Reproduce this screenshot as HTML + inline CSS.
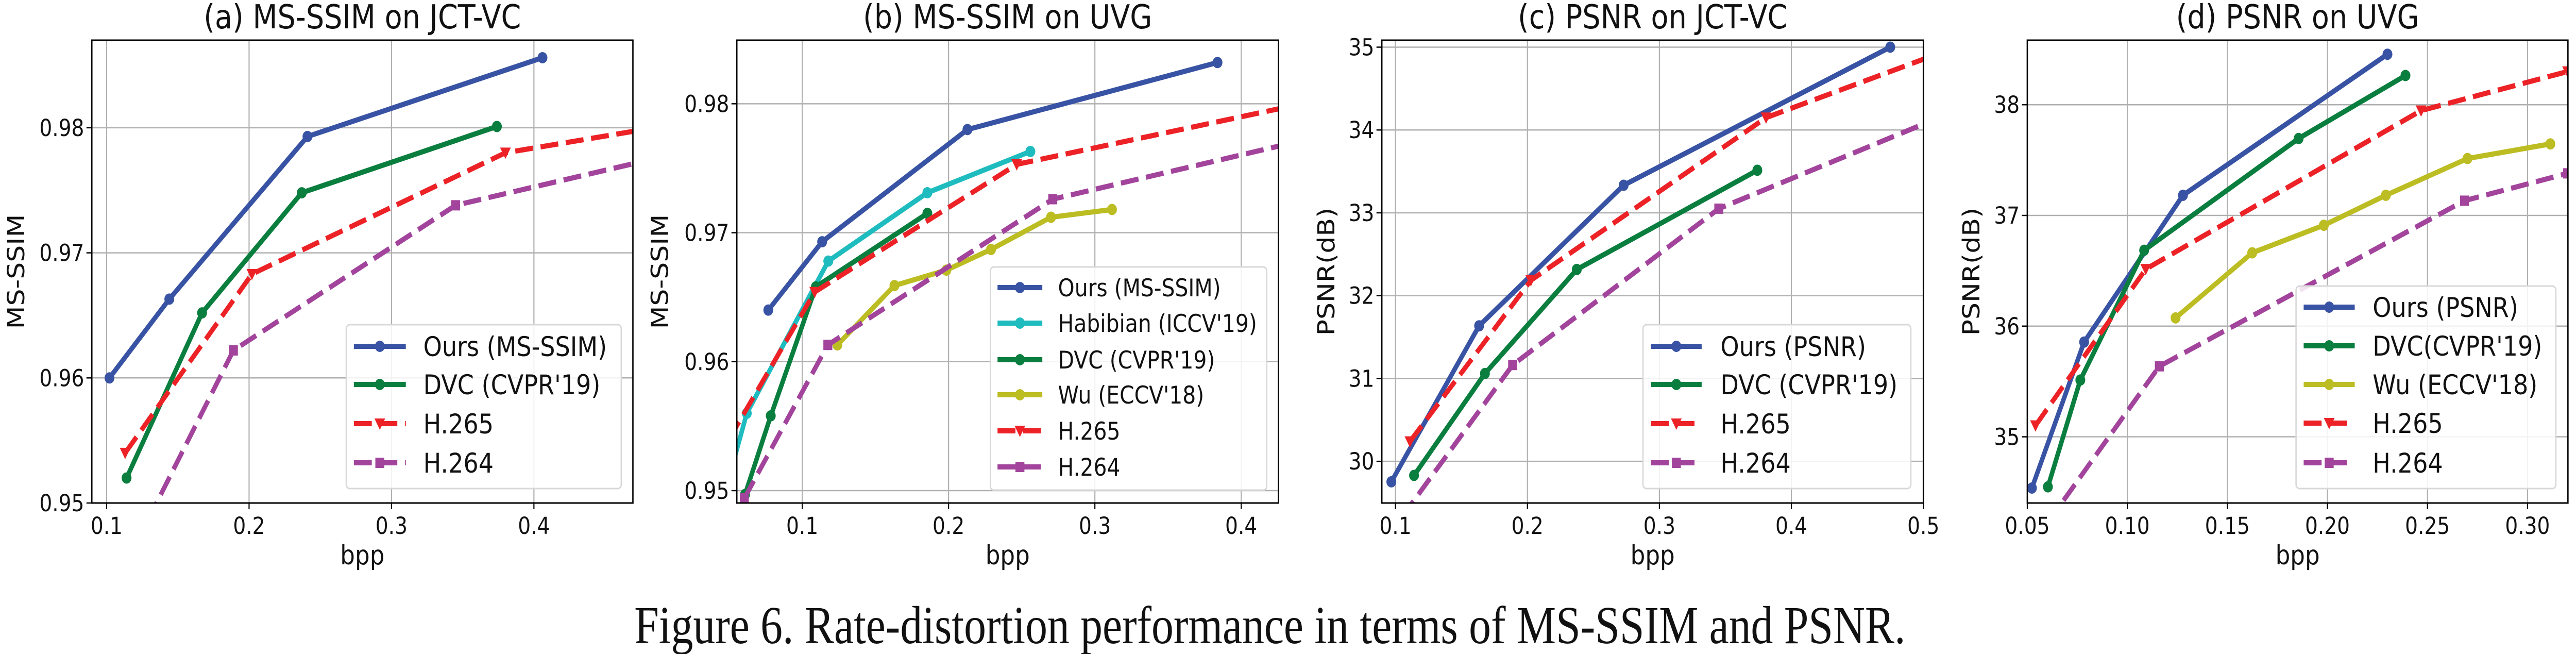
<!DOCTYPE html>
<html><head><meta charset="utf-8"><style>
html,body{margin:0;padding:0;background:#fff;width:100vw;height:100vh;overflow:hidden;}
svg{display:block;position:absolute;left:0;top:0;width:100vw;height:100vh;font-family:"DejaVu Sans","Liberation Sans",sans-serif;}
</style></head>
<body>
<svg id="fig" viewBox="0 0 5751 1269" preserveAspectRatio="none" xmlns="http://www.w3.org/2000/svg">
<rect width="5751" height="1269" fill="#fff"/>
<text x="1416" y="1248" font-family="Liberation Serif, serif" font-size="104" textLength="2838" lengthAdjust="spacingAndGlyphs" fill="#111">Figure 6. Rate-distortion performance in terms of MS-SSIM and PSNR.</text>
</svg>
<script>
// ---- Panel (a) data ----
const aOursX=[0.102,0.144,0.241,0.406];
const aOursY=[0.960,0.9663,0.9793,0.9856];
const aDvcX=[0.114,0.167,0.237,0.374];
const aDvcY=[0.952,0.9652,0.9748,0.9801];
const aH265X=[0.113,0.202,0.38,0.6];
const aH265Y=[0.954,0.9683,0.978,0.9822];
const aH264X=[0.12,0.189,0.345,0.6];
const aH264Y=[0.9466,0.9622,0.9738,0.9806];
const aXTicks=[0.1,0.2,0.3,0.4];
const aXTickLabels=["0.1","0.2","0.3","0.4"];
const aYTicks=[0.95,0.96,0.97,0.98];
const aYTickLabels=["0.95","0.96","0.97","0.98"];
// ---- Panel (b) data ----
const bOursX=[0.0768,0.1136,0.2129,0.3838];
const bOursY=[0.9640,0.9693,0.9780,0.9832];
const bHabX=[0.05,0.0621,0.1178,0.1855,0.2559];
const bHabY=[0.9510,0.9560,0.9678,0.9731,0.9763];
const bDvcX=[0.0609,0.0785,0.1093,0.1855];
const bDvcY=[0.9497,0.9558,0.9658,0.9715];
const bWuX=[0.124,0.163,0.1985,0.229,0.270,0.3117];
const bWuY=[0.9613,0.9659,0.9671,0.9687,0.9712,0.9718];
const bH265X=[0.05,0.1085,0.2466,0.5];
const bH265Y=[0.9540,0.9654,0.9753,0.9814];
const bH264X=[0.0604,0.1175,0.2712,0.5];
const bH264Y=[0.9494,0.9613,0.9726,0.9787];
const bXTicks=[0.1,0.2,0.3,0.4];
const bXTickLabels=["0.1","0.2","0.3","0.4"];
const bYTicks=[0.95,0.96,0.97,0.98];
const bYTickLabels=["0.95","0.96","0.97","0.98"];
// ---- Panel (c) data ----
const cOursX=[0.0969,0.1634,0.2729,0.4749];
const cOursY=[29.753,31.636,33.333,35.0];
const cDvcX=[0.1141,0.1678,0.2374,0.3742];
const cDvcY=[29.83,31.06,32.316,33.514];
const cH265X=[0.111,0.2026,0.3808,0.55];
const cH265Y=[30.24,32.185,34.149,35.15];
const cH264X=[0.105,0.1888,0.345,0.55];
const cH264Y=[29.33,31.163,33.05,34.4];
const cXTicks=[0.1,0.2,0.3,0.4,0.5];
const cXTickLabels=["0.1","0.2","0.3","0.4","0.5"];
const cYTicks=[30,31,32,33,34,35];
const cYTickLabels=["30","31","32","33","34","35"];
// ---- Panel (d) data ----
const dOursX=[0.0523,0.0784,0.1278,0.230];
const dOursY=[34.537,35.856,37.182,38.456];
const dDvcX=[0.0603,0.0765,0.1084,0.1856,0.2390];
const dDvcY=[34.548,35.513,36.685,37.695,38.264];
const dWuX=[0.1241,0.1624,0.1982,0.2292,0.27,0.3114];
const dWuY=[36.074,36.662,36.911,37.182,37.514,37.646];
const dH265X=[0.0541,0.1092,0.2468,0.32];
const dH265Y=[35.102,36.515,37.947,38.30];
const dH264X=[0.06,0.116,0.2685,0.32];
const dH264Y=[34.22,35.637,37.133,37.38];
const dXTicks=[0.05,0.10,0.15,0.20,0.25,0.30];
const dXTickLabels=["0.05","0.10","0.15","0.20","0.25","0.30"];
const dYTicks=[35,36,37,38];
const dYTickLabels=["35","36","37","38"];

const NS="http://www.w3.org/2000/svg";
const svg=document.getElementById('fig');
const COL={ours:"#3953a4",dvc:"#0a7e3e",hab:"#1fbcbf",wu:"#bcbd22",h265:"#ec2227",h264:"#a2449c"};
function mk(tag,parent,attrs){const e=document.createElementNS(NS,tag);for(const k in attrs)e.setAttribute(k,attrs[k]);parent.appendChild(e);return e;}

const panels=[
 {id:"a",title:"(a) MS-SSIM on JCT-VC",ylabel:"MS-SSIM",L:205,R:1413,T:78,B:976,x0:0.0896,x1:0.4695,y0:0.95,y1:0.987,ylx:37,
  xt:aXTicks,xtl:aXTickLabels,yt:aYTicks,ytl:aYTickLabels,
  series:[["Ours (MS-SSIM)","ours",aOursX,aOursY,"o",false],["DVC (CVPR'19)","dvc",aDvcX,aDvcY,"o",false],["H.265","h265",aH265X,aH265Y,"v",true],["H.264","h264",aH264X,aH264Y,"s",true]],
  leg:{x:773,y:630,w:614,h:318,rows:[672,746,822,898],lx0:790,lx1:906,tx:945,fs:53}},
 {id:"b",title:"(b) MS-SSIM on UVG",ylabel:"MS-SSIM",L:1645,R:2854,T:78,B:976,x0:0.0553,x1:0.4254,y0:0.94904,y1:0.98493,ylx:1474,
  xt:bXTicks,xtl:bXTickLabels,yt:bYTicks,ytl:bYTickLabels,
  series:[["Ours (MS-SSIM)","ours",bOursX,bOursY,"o",false],["Habibian (ICCV'19)","hab",bHabX,bHabY,"o",false],["DVC (CVPR'19)","dvc",bDvcX,bDvcY,"o",false],["Wu (ECCV'18)","wu",bWuX,bWuY,"o",false],["H.265","h265",bH265X,bH265Y,"v",true],["H.264","h264",bH264X,bH264Y,"s",true]],
  leg:{x:2211,y:518,w:617,h:433,rows:[558,627,698,766,836,906],lx0:2227,lx1:2327,tx:2362,fs:47}},
 {id:"c",title:"(c) PSNR on JCT-VC",ylabel:"PSNR(dB)",L:3085,R:4294,T:78,B:976,x0:0.0897,x1:0.5,y0:29.497,y1:35.084,ylx:2962,
  xt:cXTicks,xtl:cXTickLabels,yt:cYTicks,ytl:cYTickLabels,
  series:[["Ours (PSNR)","ours",cOursX,cOursY,"o",false],["DVC (CVPR'19)","dvc",cDvcX,cDvcY,"o",false],["H.265","h265",cH265X,cH265Y,"v",true],["H.264","h264",cH264X,cH264Y,"s",true]],
  leg:{x:3668,y:630,w:598,h:318,rows:[672,746,822,898],lx0:3686,lx1:3799,tx:3841,fs:53}},
 {id:"d",title:"(d) PSNR on UVG",ylabel:"PSNR(dB)",L:4526,R:5733,T:78,B:976,x0:0.05,x1:0.3202,y0:34.402,y1:38.583,ylx:4402,
  xt:dXTicks,xtl:dXTickLabels,yt:dYTicks,ytl:dYTickLabels,
  series:[["Ours (PSNR)","ours",dOursX,dOursY,"o",false],["DVC(CVPR'19)","dvc",dDvcX,dDvcY,"o",false],["Wu (ECCV'18)","wu",dWuX,dWuY,"o",false],["H.265","h265",dH265X,dH265Y,"v",true],["H.264","h264",dH264X,dH264Y,"s",true]],
  leg:{x:5126,y:555,w:580,h:393,rows:[596,671,746,821,898],lx0:5143,lx1:5257,tx:5297,fs:53}}
];

function marker(g,type,x,y,color){
  let m;
  if(type==="o"){m=mk('circle',g,{cx:x,cy:y,r:11,fill:color});}
  else if(type==="v"){m=mk('polygon',g,{points:`${x-12},${y-10} ${x+12},${y-10} ${x},${y+12}`,fill:color});}
  else {m=mk('rect',g,{x:x-10,y:y-10,width:20,height:20,fill:color});}
  return m;
}

panels.forEach(p=>{
  const sx=v=>p.L+(v-p.x0)/(p.x1-p.x0)*(p.R-p.L);
  const sy=v=>p.B-(v-p.y0)/(p.y1-p.y0)*(p.B-p.T);
  const g=mk('g',svg,{});
  
  
  const defs=mk('defs',g,{});
  const cp=mk('clipPath',defs,{id:'clip-'+p.id});
  mk('rect',cp,{x:p.L,y:p.T,width:p.R-p.L,height:p.B-p.T});
  p.xt.forEach((v,i)=>{
    const x=sx(v);
    const gl=mk('line',g,{x1:x,x2:x,y1:p.T,y2:p.B,stroke:"#b0b0b0","stroke-width":2.5});
    
    
    mk('line',g,{x1:x,x2:x,y1:p.B,y2:p.B+12,stroke:"#000","stroke-width":2.5});
    const t=mk('text',g,{x:x,y:1036,"text-anchor":"middle","font-size":45,fill:"#111"});
    t.textContent=p.xtl[i];
    
    
  });
  p.yt.forEach((v,i)=>{
    const y=sy(v);
    const gl=mk('line',g,{x1:p.L,x2:p.R,y1:y,y2:y,stroke:"#b0b0b0","stroke-width":2.5});
    
    
    mk('line',g,{x1:p.L-12,x2:p.L,y1:y,y2:y,stroke:"#000","stroke-width":2.5});
    const t=mk('text',g,{x:p.L-17,y:y+16,"text-anchor":"end","font-size":45,fill:"#111"});
    t.textContent=p.ytl[i];
    
    
  });
  const sg=mk('g',g,{"clip-path":`url(#clip-${p.id})`});
  p.series.forEach(s=>{
    const [name,key,X,Y,mt,dash]=s;
    const pts=X.map((x,i)=>sx(x)+","+sy(Y[i])).join(" ");
    const ln=mk('polyline',sg,{points:pts,fill:"none",stroke:COL[key],"stroke-width":10,"stroke-linejoin":"round"});
    if(dash)ln.setAttribute('stroke-dasharray','40 17');
    
    
    X.forEach((x,i)=>{
      const m=marker(sg,mt,sx(x),sy(Y[i]),COL[key]);
      
      
    });
  });
  const fr=mk('rect',g,{x:p.L,y:p.T,width:p.R-p.L,height:p.B-p.T,fill:"none",stroke:"#000","stroke-width":3});
  
  
  const tt=mk('text',g,{x:(p.L+p.R)/2,y:55,"text-anchor":"middle","font-size":64,fill:"#111"});
  tt.textContent=p.title;
  
  
  const xl=mk('text',g,{x:(p.L+p.R)/2,y:1095,"text-anchor":"middle","font-size":52,fill:"#111"});
  xl.textContent="bpp";
  
  
  const cy=(p.T+p.B)/2;
  const yl=mk('text',g,{x:p.ylx,y:cy,"text-anchor":"middle","dominant-baseline":"central","font-size":52,fill:"#111",transform:`rotate(-90 ${p.ylx} ${cy})`});
  yl.textContent=p.ylabel;
  
  
  const lg=p.leg;
  const lgg=mk('g',g,{});
  
  
  mk('rect',lgg,{x:lg.x,y:lg.y,width:lg.w,height:lg.h,rx:8,fill:"#fff","fill-opacity":0.85,stroke:"#d8d8d8","stroke-width":3});
  p.series.forEach((s,i)=>{
    const [name,key,X,Y,mt,dash]=s;
    const y=lg.rows[i];
    const e=mk('g',lgg,{});
    
    
    const l=mk('line',e,{x1:lg.lx0,x2:lg.lx1,y1:y,y2:y,stroke:COL[key],"stroke-width":10});
    if(dash)l.setAttribute('stroke-dasharray','40 17');
    marker(e,mt,(lg.lx0+lg.lx1)/2,y,COL[key]);
    const t=mk('text',e,{x:lg.tx,y:y+lg.fs*0.36,"font-size":lg.fs,fill:"#111"});
    t.textContent=name;
  });
});
</script>
</body></html>
